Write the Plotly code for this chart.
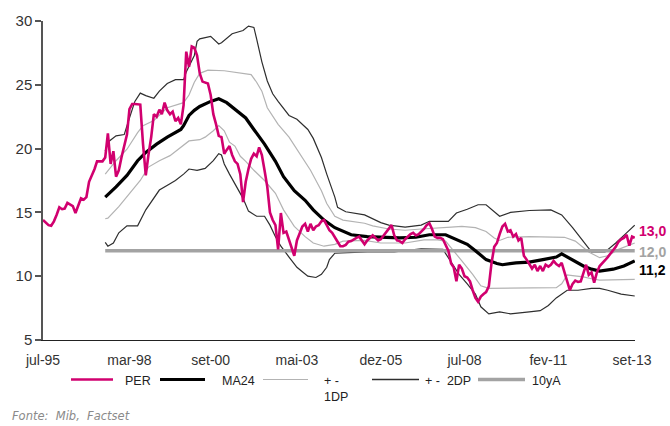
import pandas as pd
import plotly.graph_objects as go

# ---------------- data ----------------
# Monthly PER, starting Jul-1995
per_start = "1995-07-01"
per_values = [
    14.4, 14.2, 14.0, 13.95, 14.3, 14.8, 15.4, 15.25, 15.3, 15.75, 15.6, 15.5,
    14.95, 15.6, 16.1, 16.0, 16.2, 17.4, 17.9, 18.4, 19.0, 19.0, 19.0, 19.3,
    21.2, 18.8, 19.8, 17.8, 18.3, 19.3, 20.2, 21.1, 23.1, 23.5, 23.5, 23.5,
    23.45, 20.35, 17.9, 19.5, 20.9, 22.7, 22.5, 23.05, 22.7, 23.6, 23.0, 22.7,
    22.9, 22.15, 22.4, 21.9, 23.4, 27.6, 26.4, 28.0, 27.9, 27.3, 25.9, 25.25,
    25.2, 25.1, 24.2, 22.7, 21.9, 21.0, 20.9, 19.6, 19.9, 20.2, 19.5, 19.0,
    18.8, 18.0, 15.8, 17.4, 18.4, 19.2, 19.6, 19.4, 20.1, 19.5, 18.3, 17.0,
    15.0, 14.4, 14.0, 12.1, 14.95, 13.4, 13.5, 12.8, 12.3, 11.6, 12.8, 13.3,
    13.9, 14.1, 13.5, 14.1, 13.6, 13.9, 14.0, 14.3, 14.4, 14.0, 13.6, 13.4,
    13.1, 12.7, 12.35, 12.35, 12.45, 12.7, 12.75, 12.9, 13.0, 13.1, 12.8, 12.5,
    12.8, 13.0, 13.2, 13.0, 12.8, 12.9, 13.2, 13.5, 13.8, 14.0, 13.2, 12.8,
    12.75, 12.6, 12.9, 13.1, 13.3, 13.4, 13.2, 13.3, 13.5, 13.7, 14.0, 14.15,
    13.7, 13.1, 13.0, 13.0, 12.9, 12.5, 12.0, 11.0, 10.7, 9.6, 10.9, 10.6,
    10.0, 9.9, 9.6, 8.9, 8.3, 8.0, 8.4, 8.6, 8.75, 9.2, 11.0, 12.3,
    12.6, 13.3, 13.9, 14.1, 13.5, 13.6, 13.1, 13.3, 12.8, 13.0, 11.6, 11.3,
    11.0, 10.6, 10.9, 10.4, 10.8, 10.4, 10.9, 10.75, 10.9, 11.2, 10.95, 10.8,
    11.05, 10.4, 9.6, 8.9, 9.4, 9.65, 9.55, 9.6, 10.15, 10.9, 10.1, 10.3,
    9.5, 10.3, 10.8, 11.0, 11.25, 11.5, 11.8, 12.0, 12.3, 12.7, 12.9, 13.0,
    13.25, 12.4, 13.1, 13.0,
]

ma24_dates = [
    "1997-06", "1997-10", "1998-02", "1998-06", "1998-09", "1999-01", "1999-05",
    "1999-10", "1999-11", "2000-01", "2000-03", "2000-05", "2000-09", "2000-12",
    "2001-03", "2001-06", "2001-10", "2002-01", "2002-05", "2002-09", "2002-12",
    "2003-04", "2003-08", "2003-11", "2004-03", "2004-07", "2004-11", "2005-01",
    "2005-07", "2006-01", "2006-07", "2007-01", "2007-06", "2007-12", "2008-04",
    "2008-08", "2008-11", "2009-03", "2009-07", "2009-09", "2010-02", "2010-07",
    "2010-12", "2011-05", "2011-07", "2011-11", "2012-03", "2012-06", "2012-09",
    "2013-02", "2013-06", "2013-10",
]
ma24_values = [
    16.2, 17.0, 17.9, 19.05, 19.7, 20.35, 20.9,
    21.5, 21.8, 22.6, 23.0, 23.3, 23.7, 23.9,
    23.6, 23.1, 22.4, 21.5, 20.35, 19.0, 17.8,
    16.7, 15.95, 15.2, 14.4, 13.8, 13.4, 13.25,
    13.1, 13.05, 13.0, 13.05, 13.25, 13.25, 12.85,
    12.5, 12.0, 11.3, 11.0, 10.9, 11.05, 11.1,
    11.3, 11.5, 11.75, 11.3, 10.8, 10.55, 10.4,
    10.55, 10.8, 11.2,
]

up1_dates = [
    "1997-06", "1997-10", "1998-02", "1998-06", "1998-08", "1998-12", "1999-05",
    "1999-11", "2000-01", "2000-03", "2000-05", "2000-08", "2001-02", "2001-06",
    "2001-12", "2002-02", "2002-04", "2002-06", "2002-10", "2003-02", "2003-06",
    "2003-10", "2004-02", "2004-04", "2004-07", "2004-10", "2005-06", "2005-09",
    "2006-03", "2006-09", "2007-03", "2007-09", "2008-02", "2008-06", "2008-11",
    "2009-03", "2009-06", "2009-08", "2009-11", "2010-07", "2011-03", "2011-08",
    "2011-12", "2012-05", "2012-09", "2012-12", "2013-04", "2013-10",
]
up1_values = [
    18.0, 19.05, 19.95, 21.25, 21.8, 22.2, 23.2,
    23.6, 24.2, 25.2, 25.9, 26.15, 26.1, 26.0,
    25.8, 25.2, 24.5, 23.2, 21.9, 20.9, 19.6,
    18.3, 16.7, 15.7, 14.7, 14.4, 14.15, 13.95,
    13.7, 13.6, 13.7, 13.75, 13.85, 13.9, 13.8,
    13.5, 13.0, 12.8, 13.05, 13.1, 13.1, 13.05,
    12.75, 11.9, 11.45, 11.6, 12.1, 12.6,
]

lo1_dates = [
    "1997-06", "1997-07", "1997-11", "1998-03", "1998-07", "1998-10", "1999-02",
    "1999-06", "1999-09", "2000-01", "2000-05", "2000-07", "2000-10", "2000-12",
    "2001-02", "2001-04", "2001-06", "2001-08", "2001-10", "2002-01", "2002-05",
    "2002-09", "2002-12", "2003-04", "2003-08", "2003-11", "2004-03", "2004-07",
    "2004-10", "2005-06", "2005-12", "2006-09", "2007-04", "2007-09", "2007-12",
    "2008-02", "2008-06", "2008-10", "2009-01", "2009-04", "2009-09", "2010-07",
    "2011-05", "2011-07", "2011-09", "2011-11", "2012-03", "2012-06", "2012-09",
    "2013-10",
]
lo1_values = [
    14.5, 14.55, 15.45, 16.5, 17.5, 18.55, 19.05,
    19.45, 19.95, 20.6, 20.7, 20.9, 21.4, 21.8,
    21.4, 20.5, 20.2, 19.4, 19.0, 18.3, 17.5,
    16.5, 15.2, 13.9, 13.1, 12.6, 12.35, 12.5,
    12.75, 12.8, 12.6, 12.6, 12.85, 12.85, 12.75,
    12.2, 11.2, 10.15, 9.25, 9.05, 9.05, 9.1,
    9.1, 9.4, 10.1, 10.05, 9.95, 9.8, 9.7,
    9.75,
]

up2_dates = [
    "1997-06", "1997-07", "1997-10", "1998-01", "1998-03", "1998-05", "1998-07",
    "1998-09", "1998-12", "1999-02", "1999-05", "1999-08", "1999-11", "1999-12",
    "2000-03", "2000-04", "2000-05", "2000-09", "2000-12", "2001-01", "2001-05",
    "2001-09", "2001-11", "2002-01", "2002-02", "2002-04", "2002-06", "2002-08",
    "2002-10", "2003-02", "2003-05", "2003-09", "2003-11", "2004-02", "2004-04",
    "2004-07", "2004-08", "2004-11", "2005-06", "2005-12", "2006-03", "2006-09",
    "2007-03", "2007-06", "2008-01", "2008-04", "2008-08", "2008-12", "2009-03",
    "2009-06", "2009-08", "2009-12", "2010-07", "2011-03", "2011-07", "2011-11",
    "2012-04", "2012-06", "2012-11", "2013-03", "2013-07", "2013-10",
]
up2_values = [
    19.8, 20.5, 21.0, 21.1, 22.4, 23.7, 24.35,
    24.15, 23.95, 24.5, 25.1, 25.4, 25.4, 26.0,
    27.3, 28.4, 28.6, 28.8, 28.2, 28.3, 29.0,
    29.25, 29.6, 29.5, 28.6, 26.8, 25.3, 24.3,
    23.7, 22.6, 22.3, 21.5, 20.8, 19.3, 18.0,
    16.2, 15.4, 15.05, 14.8, 14.2, 14.0, 13.85,
    14.0, 14.3, 14.3, 14.95, 15.25, 15.6, 15.6,
    15.05, 14.7, 15.0, 15.15, 15.2, 14.8, 13.8,
    12.5, 11.9, 11.9, 12.6, 13.4, 14.0,
]

lo2_dates = [
    "1997-06", "1997-07", "1997-09", "1997-11", "1998-02", "1998-06", "1998-09",
    "1998-12", "1999-02", "1999-06", "1999-08", "1999-11", "2000-01", "2000-04",
    "2000-07", "2000-10", "2000-12", "2001-01", "2001-02", "2001-04", "2001-06",
    "2001-09", "2001-11", "2002-02", "2002-05", "2002-07", "2002-09", "2002-11",
    "2003-02", "2003-05", "2003-07", "2003-09", "2003-12", "2004-02", "2004-04",
    "2004-05", "2004-07", "2004-11", "2005-07", "2006-05", "2006-10", "2007-03",
    "2007-11", "2008-01", "2008-05", "2008-08", "2008-11", "2009-01", "2009-04",
    "2009-08", "2009-12", "2010-07", "2010-11", "2011-02", "2011-05", "2011-09",
    "2012-01", "2012-06", "2012-09", "2012-12", "2013-05", "2013-10",
]
lo2_values = [
    12.65, 12.35, 12.6, 13.4, 13.95, 13.95, 15.2,
    16.1, 16.75, 17.25, 17.5, 18.0, 18.4, 18.3,
    18.45, 19.05, 19.6, 19.5, 18.8, 18.0, 17.25,
    16.1, 15.1, 14.7, 14.7, 14.0, 13.1, 12.35,
    11.5, 10.7, 10.35, 10.0, 9.9, 10.15, 10.7,
    11.3, 11.8, 11.85, 11.9, 11.9, 12.05, 12.15,
    12.1, 11.45, 10.15, 9.4, 8.6, 7.6, 7.05,
    7.2, 7.05, 7.2, 7.3, 7.7, 8.3, 8.9,
    8.9, 9.05, 9.05, 8.9, 8.6, 8.45,
]

tenya_dates = ["1997-06", "2013-10"]
tenya_values = [12.0, 12.0]

tick_dates = ["1995-07-01", "1998-03-01", "2000-09-01", "2003-05-01",
              "2005-12-01", "2008-07-01", "2011-02-01", "2013-09-01"]
tick_labels = ["jul-95", "mar-98", "set-00", "mai-03",
               "dez-05", "jul-08", "fev-11", "set-13"]
y_ticks = [5, 10, 15, 20, 25, 30]

# ---------------- styling ----------------
W, H = 670, 426
L, R, T, B = 43, 635, 17, 340          # plot area in pixels
SANS = "Liberation Sans, Arial, sans-serif"
MAGENTA = "#d1006f"
GRAY_1DP = "#b3b3b3"
DARK_2DP = "#2e2e2e"
GRAY_10YA = "#a3a3a3"


def px(xp):
    return (xp - L) / (R - L)


def py(yp):
    return (B - yp) / (B - T)


per_dates = pd.date_range(start=per_start, periods=len(per_values), freq="MS")

fig = go.Figure()


def add_line(x, y, color, width):
    fig.add_trace(go.Scatter(
        x=pd.to_datetime(x), y=y, mode="lines",
        line=dict(color=color, width=width), showlegend=False,
        hoverinfo="skip",
    ))


add_line(up1_dates, up1_values, GRAY_1DP, 1.2)
add_line(lo1_dates, lo1_values, GRAY_1DP, 1.2)
add_line(up2_dates, up2_values, DARK_2DP, 1.2)
add_line(lo2_dates, lo2_values, DARK_2DP, 1.2)
add_line(tenya_dates, tenya_values, GRAY_10YA, 3.5)
add_line(ma24_dates, ma24_values, "#000000", 3.2)
add_line(per_dates, per_values, MAGENTA, 2.6)

# end-of-series value labels
end_labels = [
    (per_values[-1], MAGENTA, 7),
    (tenya_values[-1], GRAY_10YA, -1),
    (ma24_values[-1], "#000000", -9),
]
annotations = []
for val, col, shift in end_labels:
    annotations.append(dict(
        x=pd.to_datetime(tenya_dates[-1]), y=val, xref="x", yref="y",
        text=f"{val:.1f}".replace(".", ","), showarrow=False,
        xanchor="left", yanchor="middle", xshift=2, yshift=shift,
        font=dict(family=SANS, size=14, color=col, weight="bold"),
    ))

# legend drawn below the axis
legend_items = [
    # (x0, x1, colour, width, label lines, label x)
    (71, 113, MAGENTA, 2.6, ["PER"], 123),
    (160, 205, "#000000", 3.2, ["MA24"], 220),
    (263, 308, GRAY_1DP, 1.2, ["+ -", "1DP"], 322),
    (372, 419, DARK_2DP, 1.4, ["+ -  2DP"], 423),
    (478, 525, GRAY_10YA, 3.5, ["10yA"], 530),
]
shapes = []
LEG_Y = 380
for x0, x1, col, wd, lines, tx in legend_items:
    shapes.append(dict(type="line", xref="paper", yref="paper",
                       x0=px(x0), x1=px(x1), y0=py(LEG_Y), y1=py(LEG_Y),
                       line=dict(color=col, width=wd)))
    for i, txt in enumerate(lines):
        annotations.append(dict(
            x=px(tx), y=py(LEG_Y + 2 + i * 16), xref="paper", yref="paper",
            text=txt, showarrow=False, xanchor="left", yanchor="middle",
            font=dict(family=SANS, size=12.5, color="#222222"),
        ))

annotations.append(dict(
    x=px(10), y=py(417), xref="paper", yref="paper",
    text="Fonte:  Mib,  Factset", showarrow=False,
    xanchor="left", yanchor="middle",
    font=dict(family="DejaVu Sans, Verdana, sans-serif", size=11.5,
              color="#8a8a8a", style="italic"),
))

fig.update_layout(
    width=W, height=H,
    margin=dict(l=L, r=W - R, t=T, b=H - B),
    paper_bgcolor="white", plot_bgcolor="white",
    showlegend=False,
    shapes=shapes,
    annotations=annotations,
    xaxis=dict(
        type="date",
        range=["1995-07-01", "2013-10-04"],
        tickvals=pd.to_datetime(tick_dates), ticktext=tick_labels,
        showgrid=False, zeroline=False,
        showline=True, linecolor="#222222", linewidth=1,
        ticks="", ticklabelstandoff=7,
        tickfont=dict(family=SANS, size=14, color="#333333"),
    ),
    yaxis=dict(
        range=[5, 30], tickvals=y_ticks,
        showgrid=False, zeroline=False,
        showline=True, linecolor="#555555", linewidth=1.5,
        ticks="outside", ticklen=6, tickcolor="#555555", tickwidth=1.5,
        tickfont=dict(family=SANS, size=15, color="#333333"),
    ),
)

fig.write_html("out.html")
